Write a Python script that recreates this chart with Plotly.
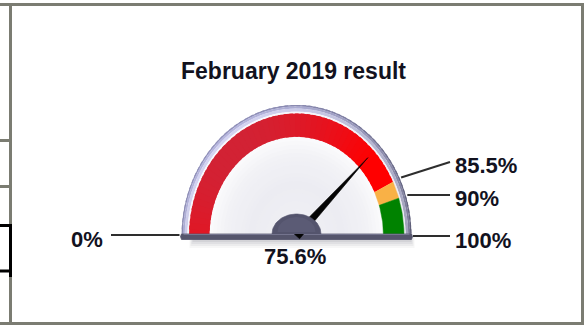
import numpy as np
import plotly.graph_objects as go

# ---- data -------------------------------------------------------------
TITLE = "February 2019 result"
SCALE_MIN, SCALE_MAX = 0, 100
BAND_EDGES = [0, 85.5, 90, 100]          # red / amber / green ranges
VALUE = 75.6
TICK_VALUES = [0, 85.5, 90, 100]
TICK_LABELS = ["0%", "85.5%", "90%", "100%"]
VALUE_LABEL = "75.6%"

# ---- geometry / style -------------------------------------------------
W, H = 586, 325
CX, CY = 296.5, 236.0      # gauge pivot (axis units = pixels)
KY = 1.14                  # vertical stretch of the dial
R_FACE = 87.0
R_BAND_IN, R_BAND_OUT = 87.0, 107.5
R_BEZEL_OUT = 115.0
NEEDLE_LEN = 106.0
FONT = "Liberation Sans, Arial, sans-serif"
TEXT_COLOR = "#12121e"
FRAME_GRAY = "#7b7c72"
BAND_COLORS = [None, "#f9b146", "#008200"]   # first band gets a gradient


def angle(v):
    return np.pi * (1 - (v - SCALE_MIN) / (SCALE_MAX - SCALE_MIN))


def hex2rgb(c):
    c = c.lstrip("#")
    return np.array([int(c[i:i + 2], 16) for i in (0, 2, 4)], float)


def mix(stops, t):
    t = float(np.clip(t, 0, 1))
    for (t0, c0), (t1, c1) in zip(stops[:-1], stops[1:]):
        if t <= t1:
            f = 0 if t1 == t0 else (t - t0) / (t1 - t0)
            rgb = hex2rgb(c0) * (1 - f) + hex2rgb(c1) * f
            return "rgb(%d,%d,%d)" % tuple(np.round(rgb))
    rgb = hex2rgb(stops[-1][1])
    return "rgb(%d,%d,%d)" % tuple(np.round(rgb))


def ring(v0, v1, r_in, r_out, n=24, ky=KY):
    a = np.linspace(angle(v0), angle(v1), n)
    xo, yo = CX + r_out * np.cos(a), CY - ky * r_out * np.sin(a)
    ai = a[::-1]
    xi, yi = CX + r_in * np.cos(ai), CY - ky * r_in * np.sin(ai)
    return np.r_[xo, xi, xo[0]], np.r_[yo, yi, yo[0]]


fig = go.Figure()


def poly(x, y, color, line_w=0):
    fig.add_trace(go.Scatter(
        x=x, y=y, mode="lines", fill="toself", fillcolor=color,
        line=dict(color=color, width=line_w), hoverinfo="skip",
        showlegend=False))


def gradient_ring(v_lo, v_hi, r_in, r_out, color_at, n_seg):
    """Ring split into overlapping slices so no seams show between them."""
    sub = np.linspace(v_lo, v_hi, n_seg + 1)
    step = sub[1] - sub[0]
    for v0, v1 in zip(sub[:-1], sub[1:]):
        c = color_at((v0 + v1) / 2)
        x, y = ring(v0, min(v1 + step * 0.6, v_hi), r_in, r_out, 5)
        poly(x, y, c)


# soft drop shadow under the dial
x_left = CX - R_BEZEL_OUT
x_right = CX + R_BEZEL_OUT
for i, a in enumerate([0.04, 0.05, 0.06, 0.07, 0.08]):
    d = 12 - 2 * i
    poly([x_left + 8 + i, x_right + 3 - i, x_right + 3 - i, x_left + 8 + i, x_left + 8 + i],
         [CY, CY, CY + d, CY + d, CY], "rgba(40,40,60,%.2f)" % a)

# bezel: shaded ring, light at the upper left and darker to the right
def bezel_shade(stops):
    def f(v):
        t = 0.5 - 0.5 * np.cos(angle(v) - 3 * np.pi / 4)
        return mix(stops, t)
    return f


bezel_layers = [
    (R_BEZEL_OUT - 1.3, R_BEZEL_OUT, [(0, "#9292bb"), (1, "#55556c")]),
    (R_BEZEL_OUT - 3.2, R_BEZEL_OUT - 1.3, [(0, "#b6b6de"), (1, "#6e6e88")]),
    (R_BAND_OUT + 1.6, R_BEZEL_OUT - 3.2, [(0, "#d4d4f2"), (1, "#9898b0")]),
    (R_BAND_OUT, R_BAND_OUT + 1.6, [(0, "#f8f8fd"), (1, "#e8e8f0")]),
]
for r_in, r_out, stops in bezel_layers:
    gradient_ring(SCALE_MIN, SCALE_MAX, r_in, r_out, bezel_shade(stops), 60)

# dial face: white rim fading to a soft grey centre
face_stops = [(0.0, "#f1f1f5"), (0.55, "#ececf2"), (0.85, "#f2f2f6"), (1.0, "#fafafc")]
for r in np.linspace(R_FACE, 6, 24):
    x, y = ring(SCALE_MIN, SCALE_MAX, 0, r, 80)
    poly(x, y, mix(face_stops, r / R_FACE))

# coloured ranges
red_stops = [(0.0, "#c42a46"), (0.25, "#d22234"), (0.5, "#ec0e18"),
             (0.68, "#ff0000"), (1.0, "#ff0000")]


def red_at(v):
    am = angle(v)
    rm = (R_BAND_IN + R_BAND_OUT) / 2
    mx, my = CX + rm * np.cos(am), CY - KY * rm * np.sin(am)
    t = ((mx - (CX - R_BAND_OUT)) + (my - (CY - KY * R_BAND_OUT))) / (2 * R_BAND_OUT + KY * R_BAND_OUT)
    return mix(red_stops, t)


for k, (b0, b1) in enumerate(zip(BAND_EDGES[:-1], BAND_EDGES[1:])):
    if BAND_COLORS[k] is None:
        gradient_ring(b0, b1, R_BAND_IN, R_BAND_OUT, red_at, 50)
    else:
        x, y = ring(b0, b1, R_BAND_IN, R_BAND_OUT, 20)
        poly(x, y, BAND_COLORS[k], 0.5)

# base bar of the dial
poly([x_left, x_right, x_right + 1, x_right, x_left, x_left - 1, x_left],
     [CY - 2, CY - 2, CY + 0.5, CY + 3.5, CY + 3.5, CY + 0.5, CY - 2], "#55556c", 0.8)
poly([x_left + 2, x_right - 2, x_right - 2, x_left + 2, x_left + 2],
     [CY - 2, CY - 2, CY - 1, CY - 1, CY - 2], "#74748e")

# needle
a = angle(VALUE)
d = np.array([np.cos(a), -KY * np.sin(a)])
d /= np.linalg.norm(d)
p = np.array([-d[1], d[0]])
tip = np.array([CX, CY]) + d * NEEDLE_LEN
b1 = np.array([CX, CY]) + p * 4.2
b2 = np.array([CX, CY]) - p * 4.2
poly([b1[0], tip[0], b2[0], b1[0]], [b1[1], tip[1], b2[1], b1[1]], "#050505", 0.6)

# hub
th = np.linspace(np.pi, 0, 40)
poly(CX + 24.5 * np.cos(th), CY - 2 - 20 * np.sin(th), "#54546d", 0.6)
poly(CX + 19 * np.cos(th), CY - 4 - 15 * np.sin(th), "#5b5b75")

# leader lines and tick labels
shapes = []
annotations = []
mid = (SCALE_MIN + SCALE_MAX) / 2
right_ticks = sorted([(v, lab) for v, lab in zip(TICK_VALUES, TICK_LABELS) if v > mid],
                     key=lambda t: -t[0])
left_ticks = [(v, lab) for v, lab in zip(TICK_VALUES, TICK_LABELS) if v <= mid]
R_LEAD = R_BEZEL_OUT + 1.5
X_RIGHT_END, X_LEFT_END = 450, 111
MIN_GAP = 33
LABEL_FONT = dict(family=FONT, size=22, color=TEXT_COLOR)
prev = None
for v, lab in right_ticks:
    aa = angle(v)
    sx, sy = CX + R_LEAD * np.cos(aa), CY - KY * R_LEAD * np.sin(aa)
    ey = sy if prev is None else min(sy, prev - MIN_GAP)
    prev = ey
    shapes.append(dict(type="line", xref="x", yref="y", x0=sx, y0=sy, x1=X_RIGHT_END, y1=ey,
                       line=dict(color="#2e2e2e", width=2)))
    annotations.append(dict(x=X_RIGHT_END + 3, y=ey + 4, xref="x", yref="y",
                            text="<b>%s</b>" % lab, showarrow=False,
                            xanchor="left", yanchor="middle", font=LABEL_FONT))
for v, lab in left_ticks:
    aa = angle(v)
    sx, sy = CX + (R_LEAD + 0.5) * np.cos(aa), CY - KY * R_LEAD * np.sin(aa) - 1
    shapes.append(dict(type="line", xref="x", yref="y", x0=sx, y0=sy, x1=X_LEFT_END, y1=sy,
                       line=dict(color="#2e2e2e", width=2)))
    annotations.append(dict(x=X_LEFT_END - 6, y=sy + 4, xref="x", yref="y",
                            text="<b>%s</b>" % lab, showarrow=False,
                            xanchor="right", yanchor="middle", font=LABEL_FONT))

annotations.append(dict(x=CX - 2, y=CY + 20, xref="x", yref="y",
                        text="<b>%s</b>" % VALUE_LABEL,
                        showarrow=False, xanchor="center", yanchor="middle",
                        font=LABEL_FONT))
annotations.append(dict(x=CX - 3, y=71, xref="x", yref="y", text="<b>%s</b>" % TITLE,
                        showarrow=False, xanchor="center", yanchor="middle",
                        font=dict(family=FONT, size=23, color=TEXT_COLOR)))


# surrounding page frame
def hline(y, x0, x1, color, w=3):
    shapes.append(dict(type="line", xref="x", yref="y", x0=x0, x1=x1, y0=y, y1=y,
                       line=dict(color=color, width=w)))


def vline(x, y0, y1, color, w=3):
    shapes.append(dict(type="line", xref="x", yref="y", x0=x, x1=x, y0=y0, y1=y1,
                       line=dict(color=color, width=w)))


hline(4.5, 0, 584, FRAME_GRAY)
hline(323.5, 0, 584, FRAME_GRAY)
vline(10.5, 3, 325, FRAME_GRAY)
vline(582.5, 3, 325, FRAME_GRAY)
hline(140.5, 0, 10, FRAME_GRAY)
hline(186.5, 0, 10, FRAME_GRAY)
hline(225.5, 0, 12, "#000000")
hline(271, 0, 12, "#000000")
vline(10.5, 224, 277, "#000000")

fig.update_layout(
    width=W, height=H, autosize=False,
    margin=dict(l=0, r=0, t=0, b=0, pad=0),
    paper_bgcolor="white", plot_bgcolor="white",
    xaxis=dict(range=[0, W], visible=False, fixedrange=True),
    yaxis=dict(range=[H, 0], visible=False, fixedrange=True),
    shapes=shapes, annotations=annotations, showlegend=False,
)
fig.write_html("out.html", config=dict(displayModeBar=False))
